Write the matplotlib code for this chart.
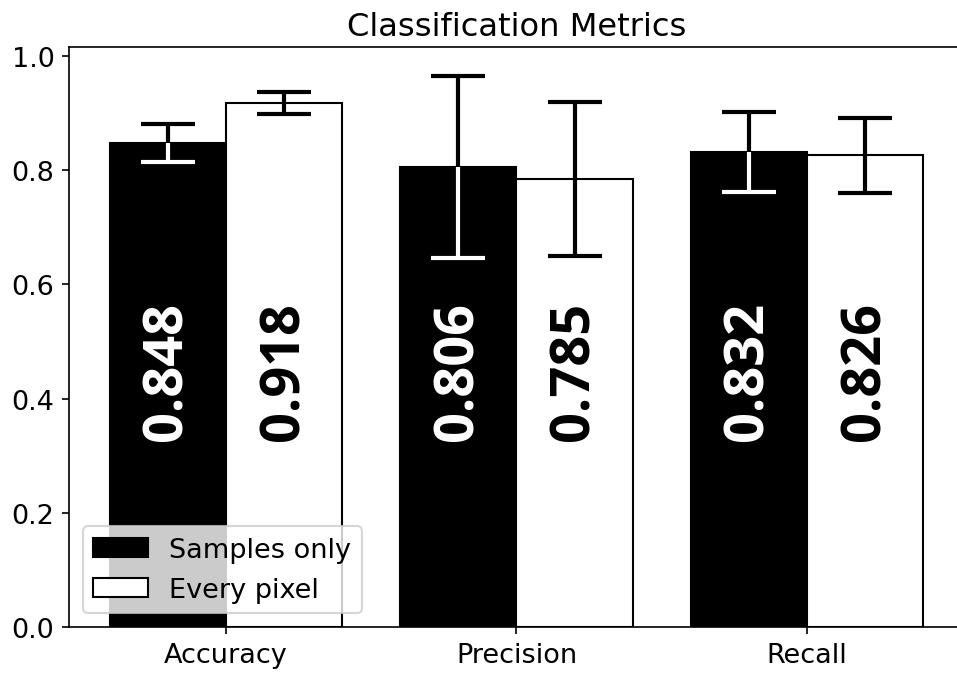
import numpy as np
import matplotlib
matplotlib.use("Agg")
from matplotlib import pyplot as plt

metrics = ["Accuracy", "Precision", "Recall"]
samples_vals = [0.848, 0.806, 0.832]
samples_err = [0.033, 0.159, 0.070]
pixel_vals = [0.918, 0.785, 0.826]
pixel_err = [0.019, 0.135, 0.065]
series_names = ["Samples only", "Every pixel"]

plt.rcParams["font.size"] = 13

dpi = 150
fig = plt.figure(figsize=(957 / dpi, 678 / dpi), dpi=dpi)
ax = fig.add_axes([0.0721, 0.0737, 0.9352, 0.8555])

x = np.arange(len(metrics))
w = 0.4

bars1 = ax.bar(x - w / 2, samples_vals, w, color="black", edgecolor="black",
               linewidth=1, label=series_names[0], zorder=2)
bars2 = ax.bar(x + w / 2, pixel_vals, w, color="white", edgecolor="black",
               linewidth=1, label=series_names[1], zorder=2)

ekw = dict(fmt="none", capsize=13, elinewidth=2, capthick=2)
ax.errorbar(x - w / 2, samples_vals, yerr=samples_err, ecolor="black", zorder=3, **ekw)
ax.errorbar(x + w / 2, pixel_vals, yerr=pixel_err, ecolor="black", zorder=3, **ekw)

# white copy of the error bars, only visible inside the black bars
for i, b in enumerate(bars1):
    eb = ax.errorbar([x[i] - w / 2], [samples_vals[i]], yerr=[samples_err[i]],
                     ecolor="white", zorder=4, **ekw)
    for art in eb.lines[1] + eb.lines[2]:
        art.set_clip_path(b)

label_y = 0.45
for i in range(len(metrics)):
    ax.text(x[i] - w / 2, label_y, f"{samples_vals[i]:.3f}", rotation=90,
            ha="center", va="center", color="white", fontsize=26,
            fontweight="bold", family="Open Sans", zorder=5)
    ax.text(x[i] + w / 2, label_y, f"{pixel_vals[i]:.3f}", rotation=90,
            ha="center", va="center", color="black", fontsize=26,
            fontweight="bold", family="Open Sans", zorder=5)

ax.set_xticks(x)
ax.set_xticklabels(metrics)
ax.set_ylim(0, 1.016)
ax.set_xlim(-0.54, 2.54)
ax.set_title("Classification Metrics", fontsize=15.4)
ax.legend(loc="lower left")

fig.savefig("out.png", dpi=dpi)
